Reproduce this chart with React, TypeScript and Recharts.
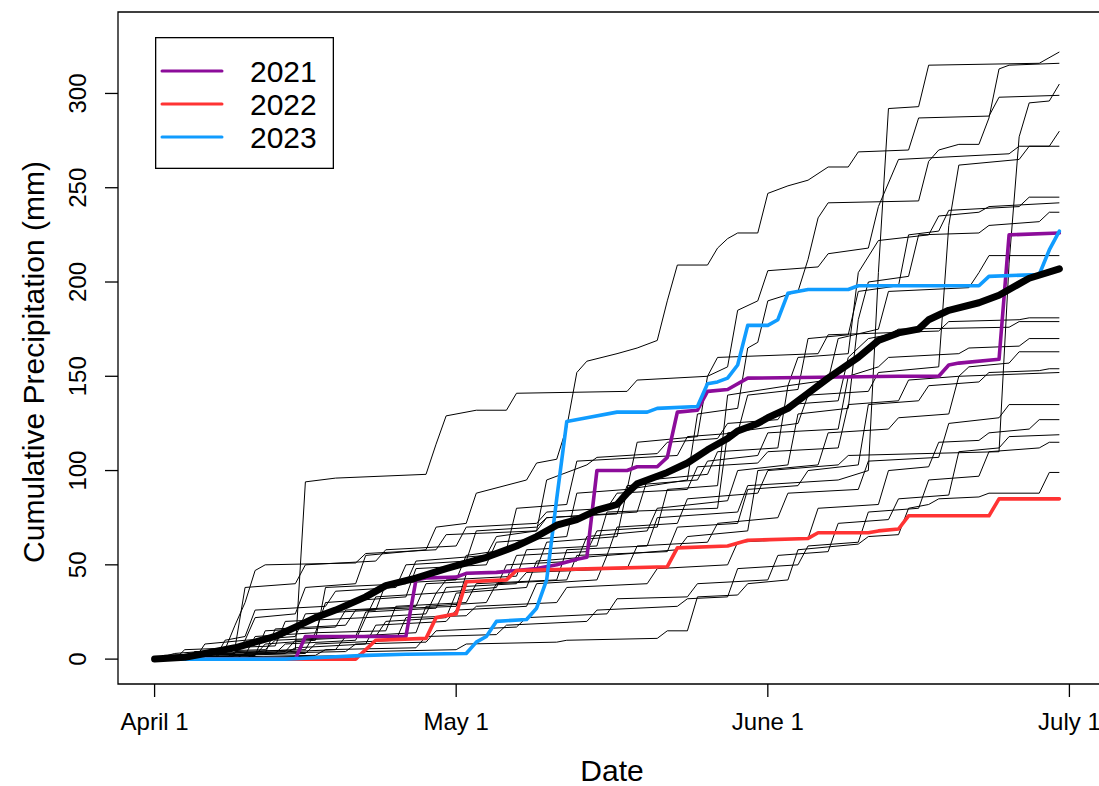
import React from 'react';
import { LineChart, Line, XAxis, YAxis, ReferenceArea, Legend } from 'recharts';

type Pt = [number, number];

// x = days since April 1, y = cumulative precipitation (mm)
const dateTicks = [0, 30, 61, 91];
const dateLabels = ['April 1', 'May 1', 'June 1', 'July 1'];
const mmTicks = [0, 50, 100, 150, 200, 250, 300];

const yearNames = ['2021', '2022', '2023'];
const yearColors = ['#8C0C9A', '#FF3333', '#109CFF'];

const y2021: Pt[] = [
  [0, 0], [14, 0], [15, 12], [25, 12], [26, 42], [27, 43], [30, 43.5], [31, 45.5], [34, 46], [36, 47],
  [38, 48], [40, 50], [42, 53], [43, 54], [44, 100], [47, 100], [48, 102], [50, 102], [51, 107], [52, 131],
  [54, 132], [55, 142], [57, 143], [59, 149], [74, 150], [78, 150], [79, 156], [80, 157], [84, 159], [85, 225],
  [90, 226],
];

const y2022: Pt[] = [
  [0, 0], [20, 0], [22, 10], [27, 11], [28, 22], [30, 24], [31, 41], [35, 42], [36, 47], [44, 48],
  [51, 49], [52, 59], [57, 60], [59, 63], [65, 64], [66, 67], [71, 67], [72, 68], [74, 69], [75, 76],
  [83, 76], [84, 85], [90, 85],
];

const y2023: Pt[] = [
  [0, 0], [13, 0], [17, 1], [21, 2], [25, 2.6], [31, 3], [32, 9], [33, 12], [34, 20], [37, 21],
  [38, 27], [39, 42], [40, 85], [41, 126], [43, 128], [46, 131], [49, 131], [50, 133], [54, 134], [55, 146],
  [56, 147], [57, 149], [58, 156], [59, 177], [61, 177], [62, 180], [63, 194], [65, 196], [69, 196], [70, 198],
  [82, 198], [83, 203], [88, 204], [89, 217], [90, 227],
];

const meanAll: Pt[] = [
  [0, 0], [3, 1], [5, 3], [8, 6], [12, 12], [14, 17], [16, 22], [18, 26], [21, 33], [23, 39],
  [26, 43], [29, 48], [31, 51], [33, 54], [36, 60], [38, 65], [40, 71], [42, 74], [44, 79], [46, 82],
  [47, 88], [48, 93], [51, 99], [53, 104], [55, 111], [57, 117], [58, 121], [60, 125], [61, 128], [63, 133],
  [65, 141], [67, 149], [70, 160], [72, 169], [74, 173], [76, 175], [77, 180], [79, 185], [82, 189], [84, 193],
  [86, 199], [87, 202], [90, 207],
];

// earlier years, drawn as thin black lines
const pastA: Pt[] = [[0, 0], [7, 0], [8, 4], [15, 5], [16, 14], [23, 15], [24, 28], [31, 30], [32, 40], [40, 42], [41, 58], [49, 60], [50, 75], [58, 78], [59, 92], [68, 95], [71, 100], [72, 205], [73, 292], [76, 293], [77, 315], [88, 316], [90, 322]];
const pastB: Pt[] = [[0, 0], [3, 2], [11, 3], [12, 16], [19, 18], [20, 26], [30, 28], [31, 45], [38, 48], [39, 62], [46, 65], [47, 90], [53, 95], [54, 130], [58, 133], [59, 165], [60, 168], [61, 190], [64, 195], [65, 212], [66, 234], [67, 242], [76, 243], [77, 264], [78, 270], [80, 273], [82, 273], [83, 287], [84, 313], [85, 315], [90, 316]];
const pastC: Pt[] = [[0, 0], [5, 0], [6, 3], [13, 4], [14, 10], [22, 12], [23, 20], [29, 22], [30, 35], [37, 38], [38, 52], [45, 55], [46, 70], [52, 72], [53, 85], [60, 88], [61, 100], [68, 103], [69, 108], [84, 110], [85, 210], [86, 277], [87, 295], [89, 296], [90, 305]];
const pastD: Pt[] = [[0, 0], [4, 0], [5, 8], [9, 10], [10, 22], [14, 24], [15, 38], [20, 40], [21, 55], [27, 58], [28, 70], [31, 72], [32, 88], [37, 95], [38, 104], [40, 106], [41, 123], [42, 152], [43, 158], [46, 162], [48, 165], [50, 169], [51, 190], [52, 209], [55, 209], [56, 218], [57, 223], [58, 226], [60, 226], [61, 247], [63, 251], [65, 254], [67, 261], [69, 261], [70, 269], [75, 270], [76, 287], [83, 288], [84, 298], [90, 299]];
const pastE: Pt[] = [[0, 0], [2, 1], [9, 2], [10, 12], [16, 14], [17, 30], [25, 33], [26, 48], [33, 50], [34, 62], [41, 65], [42, 88], [47, 90], [48, 115], [54, 118], [55, 150], [57, 155], [58, 185], [60, 190], [61, 206], [66, 208], [67, 215], [71, 218], [72, 240], [74, 265], [85, 268], [86, 272], [89, 272], [90, 280]];
const pastF: Pt[] = [[0, 0], [6, 0], [7, 6], [12, 7], [13, 20], [21, 22], [22, 33], [28, 35], [29, 42], [36, 44], [37, 58], [44, 60], [45, 78], [56, 80], [57, 120], [64, 125], [65, 140], [71, 142], [72, 152], [78, 155], [79, 230], [80, 262], [86, 265], [87, 272], [90, 272]];
const pastG: Pt[] = [[0, 0], [1, 2], [8, 3], [9, 10], [14, 12], [15, 24], [22, 26], [23, 40], [30, 42], [31, 55], [35, 58], [36, 80], [41, 82], [42, 105], [52, 108], [53, 118], [58, 120], [59, 140], [64, 143], [65, 170], [69, 172], [70, 195], [74, 198], [75, 225], [78, 227], [79, 238], [86, 240], [87, 245], [90, 245]];
const pastH: Pt[] = [[0, 0], [3, 1], [10, 2], [11, 15], [18, 17], [19, 26], [26, 28], [27, 40], [35, 42], [36, 55], [43, 57], [44, 68], [50, 70], [51, 90], [56, 92], [57, 140], [63, 145], [64, 160], [69, 162], [70, 205], [72, 222], [77, 225], [78, 235], [82, 237], [83, 240], [90, 242]];
const pastI: Pt[] = [[0, 0], [4, 2], [12, 3], [13, 8], [20, 10], [21, 22], [27, 24], [28, 35], [34, 38], [35, 50], [42, 52], [43, 65], [49, 68], [50, 80], [57, 84], [58, 100], [63, 103], [64, 130], [69, 133], [70, 180], [71, 200], [75, 203], [76, 225], [82, 226], [83, 230], [88, 232], [89, 237], [90, 237]];
const pastJ: Pt[] = [[0, 0], [2, 3], [7, 5], [8, 18], [9, 30], [10, 47], [11, 50], [20, 51], [21, 56], [28, 58], [29, 66], [38, 68], [39, 75], [48, 78], [49, 95], [55, 98], [56, 110], [62, 112], [63, 145], [67, 148], [68, 170], [72, 175], [73, 195], [81, 197], [82, 205], [83, 214], [90, 214]];
const pastK: Pt[] = [[0, 0], [3, 2], [14, 5], [15, 94], [18, 96], [27, 98], [28, 114], [29, 129], [32, 132], [35, 132], [36, 141], [47, 142], [48, 148], [55, 150], [56, 160], [66, 162], [67, 172], [78, 174], [79, 179], [86, 180], [87, 181], [90, 181]];
const pastL: Pt[] = [[0, 0], [5, 1], [10, 2], [11, 8], [16, 10], [17, 38], [25, 40], [26, 52], [33, 55], [34, 65], [38, 68], [39, 95], [43, 103], [44, 107], [50, 109], [51, 115], [56, 117], [57, 125], [62, 127], [63, 135], [68, 137], [69, 160], [71, 170], [73, 172], [74, 175], [85, 176], [86, 179], [90, 179]];
const pastM: Pt[] = [[0, 0], [6, 0], [7, 10], [9, 12], [10, 26], [17, 28], [18, 36], [24, 38], [25, 50], [31, 52], [32, 68], [38, 70], [39, 75], [46, 77], [47, 92], [54, 95], [55, 105], [60, 108], [61, 120], [68, 122], [69, 150], [72, 155], [73, 160], [80, 162], [81, 165], [86, 166], [87, 170], [90, 170]];
const pastN: Pt[] = [[0, 0], [2, 0], [3, 5], [8, 6], [9, 38], [14, 40], [15, 50], [22, 52], [23, 58], [30, 60], [31, 70], [38, 72], [39, 78], [45, 80], [46, 88], [53, 90], [54, 102], [60, 104], [61, 110], [68, 112], [69, 135], [74, 137], [75, 148], [80, 150], [81, 155], [85, 157], [86, 163], [90, 163]];
const pastO: Pt[] = [[0, 0], [8, 0], [9, 3], [18, 5], [19, 12], [26, 14], [27, 28], [33, 30], [34, 40], [41, 42], [42, 55], [51, 57], [52, 70], [58, 72], [59, 90], [64, 92], [65, 100], [70, 103], [71, 135], [76, 137], [77, 145], [82, 147], [83, 152], [88, 153], [89, 154], [90, 154]];
const pastP: Pt[] = [[0, 0], [4, 0], [5, 2], [13, 3], [14, 6], [21, 8], [22, 18], [29, 20], [30, 26], [37, 28], [38, 40], [44, 42], [45, 55], [52, 58], [53, 65], [59, 68], [60, 100], [66, 103], [67, 120], [73, 122], [74, 128], [79, 130], [80, 150], [90, 152]];
const pastQ: Pt[] = [[0, 0], [3, 0], [4, 4], [11, 5], [12, 10], [20, 12], [21, 25], [28, 27], [29, 38], [36, 40], [37, 46], [47, 48], [48, 60], [55, 62], [56, 72], [62, 75], [63, 88], [70, 90], [71, 105], [78, 107], [79, 125], [84, 128], [85, 135], [90, 135]];
const pastR: Pt[] = [[0, 0], [7, 0], [8, 2], [15, 3], [16, 8], [24, 10], [25, 22], [31, 23], [32, 28], [40, 30], [41, 38], [49, 40], [50, 48], [57, 50], [58, 62], [65, 64], [66, 80], [72, 82], [73, 100], [77, 102], [78, 115], [82, 116], [83, 120], [87, 122], [88, 127], [90, 127]];
const pastS: Pt[] = [[0, 0], [9, 0], [10, 3], [19, 4], [20, 8], [27, 9], [28, 15], [36, 17], [37, 22], [45, 24], [46, 32], [53, 33], [54, 40], [61, 42], [62, 55], [67, 57], [68, 72], [73, 74], [74, 85], [79, 87], [80, 110], [84, 112], [85, 118], [90, 119]];
const pastT: Pt[] = [[0, 0], [5, 0], [6, 1], [16, 2], [17, 5], [26, 6], [27, 12], [34, 13], [35, 18], [43, 20], [44, 26], [52, 28], [53, 32], [57, 33], [58, 48], [64, 50], [65, 60], [70, 62], [71, 78], [76, 80], [77, 95], [82, 97], [83, 110], [88, 112], [89, 115], [90, 115]];
const pastU: Pt[] = [[0, 0], [10, 0], [11, 1], [20, 2], [21, 4], [30, 5], [31, 8], [40, 9], [41, 10], [50, 11], [51, 15], [53, 15], [54, 33], [58, 34], [59, 40], [63, 42], [64, 58], [70, 61], [71, 65], [74, 66], [75, 80], [77, 82], [78, 85], [82, 86], [83, 88], [88, 88], [89, 99], [90, 99]];

const pastYears = [pastA, pastB, pastC, pastD, pastE, pastF, pastG, pastH, pastI, pastJ, pastK, pastL, pastM, pastN, pastO, pastP, pastQ, pastR, pastS, pastT, pastU];
const thisYears = [y2021, y2022, y2023];

const toRows = (pts: Pt[]) => pts.map(([d, v]) => ({ d, v }));

const FONT = '"Liberation Sans", Arial, Helvetica, sans-serif';
const X_DOMAIN: [number, number] = [-3.64, 94.64];
const Y_DOMAIN: [number, number] = [-13.2, 343.2];

function DateTick(props: any) {
  const { x, payload } = props;
  const i = dateTicks.indexOf(payload.value);
  return (
    <text x={x} y={730} textAnchor="middle" fontSize={24} fontFamily={FONT} fill="#000">
      {dateLabels[i]}
    </text>
  );
}

function MmTick(props: any) {
  const { y, payload } = props;
  return (
    <text x={86} y={y} transform={`rotate(-90 86 ${y})`} textAnchor="middle" fontSize={24} fontFamily={FONT} fill="#000">
      {payload.value}
    </text>
  );
}

function DateTitle() {
  return (
    <text x={612} y={781} textAnchor="middle" fontSize={30} fontFamily={FONT} fill="#000">
      Date
    </text>
  );
}

function MmTitle() {
  return (
    <text x={44} y={362} transform="rotate(-90 44 362)" textAnchor="middle" fontSize={30} fontFamily={FONT} fill="#000">
      Cumulative Precipitation (mm)
    </text>
  );
}

function YearLegend() {
  return (
    <svg width={179} height={132} style={{ display: 'block' }}>
      <rect x={0.65} y={0.65} width={177.7} height={130.7} fill="#fff" stroke="#000" strokeWidth={1.3} />
      {yearNames.map((name, i) => {
        const cy = 34 + i * 33;
        return (
          <g key={name}>
            <line x1={7} x2={67} y1={cy} y2={cy} stroke={yearColors[i]} strokeWidth={3} strokeLinecap="round" />
            <text x={95} y={cy + 10.7} fontSize={30} fontFamily={FONT} fill="#000">
              {name}
            </text>
          </g>
        );
      })}
    </svg>
  );
}

export default function App() {
  return (
    <div style={{ position: 'absolute', left: 0, top: 0, width: 1099, height: 786, overflow: 'hidden', background: '#fff' }}>
      <LineChart width={1110} height={786} margin={{ top: 12, right: 4, bottom: 0, left: 0 }}>
        <ReferenceArea
          x1={X_DOMAIN[0]}
          x2={X_DOMAIN[1]}
          y1={Y_DOMAIN[0]}
          y2={Y_DOMAIN[1]}
          fill="none"
          fillOpacity={0}
          stroke="#000"
          strokeWidth={1.3}
          ifOverflow="visible"
        />
        <XAxis
          type="number"
          dataKey="d"
          domain={X_DOMAIN}
          ticks={dateTicks}
          allowDataOverflow
          interval={0}
          axisLine={false}
          tickLine={{ stroke: '#000', strokeWidth: 1.3 }}
          tickSize={13}
          tick={<DateTick />}
          height={102}
          label={<DateTitle />}
        />
        <YAxis
          type="number"
          domain={Y_DOMAIN}
          ticks={mmTicks}
          allowDataOverflow
          interval={0}
          axisLine={false}
          tickLine={{ stroke: '#000', strokeWidth: 1.3 }}
          tickSize={13}
          tick={<MmTick />}
          width={118}
          label={<MmTitle />}
        />
        {pastYears.map((pts, i) => (
          <Line
            key={`past-${i}`}
            data={toRows(pts)}
            dataKey="v"
            stroke="#000"
            strokeWidth={1}
            dot={false}
            activeDot={false}
            legendType="none"
            isAnimationActive={false}
          />
        ))}
        {thisYears.map((pts, i) => (
          <Line
            key={yearNames[i]}
            name={yearNames[i]}
            data={toRows(pts)}
            dataKey="v"
            stroke={yearColors[i]}
            strokeWidth={3.6}
            strokeLinejoin="round"
            strokeLinecap="round"
            dot={false}
            activeDot={false}
            isAnimationActive={false}
          />
        ))}
        <Line
          data={toRows(meanAll)}
          dataKey="v"
          stroke="#000"
          strokeWidth={7}
          strokeLinejoin="round"
          strokeLinecap="round"
          dot={false}
          activeDot={false}
          legendType="none"
          isAnimationActive={false}
        />
        <Legend
          layout="horizontal"
          verticalAlign="middle"
          align="center"
          content={<YearLegend />}
          wrapperStyle={{ position: 'absolute', left: 155, top: 37, width: 179, height: 132, margin: 0 }}
        />
      </LineChart>
    </div>
  );
}
